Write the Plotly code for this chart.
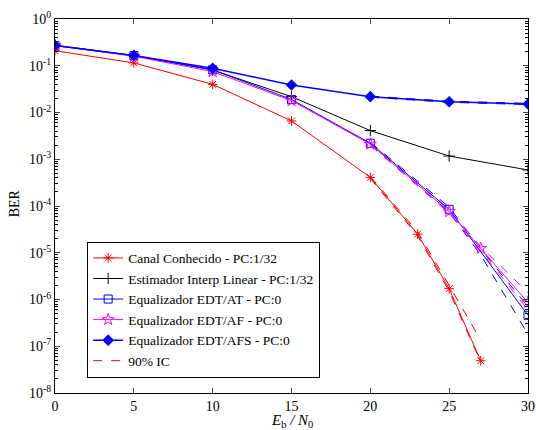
import plotly.graph_objects as go

# ---- data ----
x_main = [0, 5, 10, 15, 20, 25, 30]
x_red = [0, 5, 10, 15, 20, 23, 25, 27]
x_af = [0, 5, 10, 15, 20, 25, 27, 30]

canal = [0.21, 0.115, 0.040, 0.0066, 4.1e-4, 2.5e-5, 1.7e-6, 4.9e-8]
interp = [0.275, 0.165, 0.081, 0.0218, 0.0041, 0.00117, 5.9e-4]
edt_at = [0.27, 0.165, 0.082, 0.019, 0.0022, 8.5e-5, 4.6e-7]
edt_af = [0.27, 0.16, 0.075, 0.018, 0.0021, 7.6e-5, 1.24e-5, 8.6e-7]
edt_afs = [0.27, 0.165, 0.088, 0.0387, 0.0218, 0.017, 0.0152]

# 90% confidence intervals
x_ci_red = [20, 23, 25, 27]
red_lo = [3.9e-4, 2.3e-5, 1.5e-6, 4.6e-8]
red_hi = [4.3e-4, 2.8e-5, 2.0e-6, 1.35e-7]
x_ci_eq = [20, 25, 27, 30]
at_lo = [2.1e-3, 7.4e-5, 9.0e-6, 1.8e-7]
at_hi = [2.3e-3, 9.5e-5, 1.2e-5, 7.0e-7]
af_lo = [2.0e-3, 7.0e-5, 1.1e-5, 6.0e-7]
af_hi = [2.2e-3, 8.2e-5, 1.35e-5, 1.4e-6]
x_ci_afs = [20, 25, 30]
afs_lo = [0.0212, 0.0165, 0.0148]
afs_hi = [0.0224, 0.0175, 0.0157]

y_ticks = [1e-8, 1e-7, 1e-6, 1e-5, 1e-4, 1e-3, 1e-2, 1e-1, 1]
y_ticklabels = ["10<sup>-8</sup>", "10<sup>-7</sup>", "10<sup>-6</sup>", "10<sup>-5</sup>",
                "10<sup>-4</sup>", "10<sup>-3</sup>", "10<sup>-2</sup>", "10<sup>-1</sup>",
                "10<sup>0</sup>"]
x_ticks = [0, 5, 10, 15, 20, 25, 30]

SERIF = "Liberation Serif, Times New Roman, DejaVu Serif, serif"

fig = go.Figure()

def ci(x, y, color):
    fig.add_trace(go.Scatter(x=x, y=y, mode="lines", showlegend=False,
                             line=dict(color=color, width=1, dash="dash")))

ci(x_ci_red, red_lo, "red"); ci(x_ci_red, red_hi, "red")
ci(x_ci_eq, at_lo, "blue"); ci(x_ci_eq, at_hi, "blue")
ci(x_ci_eq, af_lo, "magenta"); ci(x_ci_eq, af_hi, "magenta")
ci(x_ci_afs, afs_lo, "blue"); ci(x_ci_afs, afs_hi, "blue")

fig.add_trace(go.Scatter(x=x_red, y=canal, mode="lines+markers",
                         name="Canal Conhecido - PC:1/32",
                         line=dict(color="red", width=1),
                         marker=dict(symbol="asterisk-open", size=8, color="red",
                                     line=dict(color="red", width=1))))
fig.add_trace(go.Scatter(x=x_main, y=interp, mode="lines+markers",
                         name="Estimador Interp Linear - PC:1/32",
                         line=dict(color="black", width=1),
                         marker=dict(symbol="cross-thin-open", size=8, color="black",
                                     line=dict(color="black", width=1))))
fig.add_trace(go.Scatter(x=x_main, y=edt_at, mode="lines+markers",
                         name="Equalizador EDT/AT - PC:0",
                         line=dict(color="blue", width=1),
                         marker=dict(symbol="square-open", size=8, color="blue",
                                     line=dict(color="blue", width=1))))
fig.add_trace(go.Scatter(x=x_af, y=edt_af, mode="lines+markers",
                         name="Equalizador EDT/AF - PC:0",
                         line=dict(color="magenta", width=1),
                         marker=dict(symbol="star-open", size=9, color="magenta",
                                     line=dict(color="magenta", width=1))))
fig.add_trace(go.Scatter(x=x_main, y=edt_afs, mode="lines+markers",
                         name="Equalizador EDT/AFS - PC:0",
                         line=dict(color="blue", width=1.5),
                         marker=dict(symbol="diamond", size=9, color="blue")))
fig.add_trace(go.Scatter(x=[None], y=[None], mode="lines", name="90% IC",
                         line=dict(color="red", width=1, dash="dash")))

minor_vals = [m * 10.0 ** k for k in range(-8, 0) for m in range(2, 10)]

fig.update_layout(
    width=536, height=430,
    margin=dict(l=55, r=8, t=19, b=37),
    paper_bgcolor="white", plot_bgcolor="white",
    font=dict(family=SERIF, size=14, color="black"),
    showlegend=True,
    hovermode=False,
    legend=dict(x=0.068, y=0.041, xanchor="left", yanchor="bottom",
                bgcolor="white", bordercolor="black", borderwidth=1,
                font=dict(family=SERIF, size=13.5), tracegroupgap=0, itemwidth=30),
    annotations=[
        dict(text="<i>E</i><sub>b</sub><i> / N</i><sub>0</sub>", xref="paper", yref="paper",
             x=0.5, y=-0.045, xanchor="center", yanchor="top", showarrow=False,
             font=dict(family=SERIF, size=15)),
        dict(text="BER", xref="paper", yref="paper", x=-0.086, y=0.508,
             xanchor="center", yanchor="middle", textangle=-90, showarrow=False,
             font=dict(family=SERIF, size=14)),
    ],
)
fig.update_xaxes(range=[0, 30], tickvals=x_ticks, ticks="inside", ticklen=5,
                 showline=True, linecolor="black", linewidth=1, mirror="ticks",
                 showgrid=False, zeroline=False, automargin=False,
                 ticklabeloverflow="allow",
                 tickfont=dict(family=SERIF, size=14))
fig.update_yaxes(type="log", range=[-8, 0], tickvals=y_ticks, ticktext=y_ticklabels,
                 ticks="inside", ticklen=5, showline=True, linecolor="black",
                 linewidth=1, mirror="ticks", showgrid=False, zeroline=False,
                 automargin=False, ticklabeloverflow="allow",
                 tickfont=dict(family=SERIF, size=14),
                 minor=dict(tickvals=minor_vals, ticks="inside", ticklen=3,
                            tickcolor="black", showgrid=False))

fig.write_html(
    "out.html",
    config={"displayModeBar": False},
    post_script="document.body.style.margin='0';document.body.style.overflow='hidden';",
)
